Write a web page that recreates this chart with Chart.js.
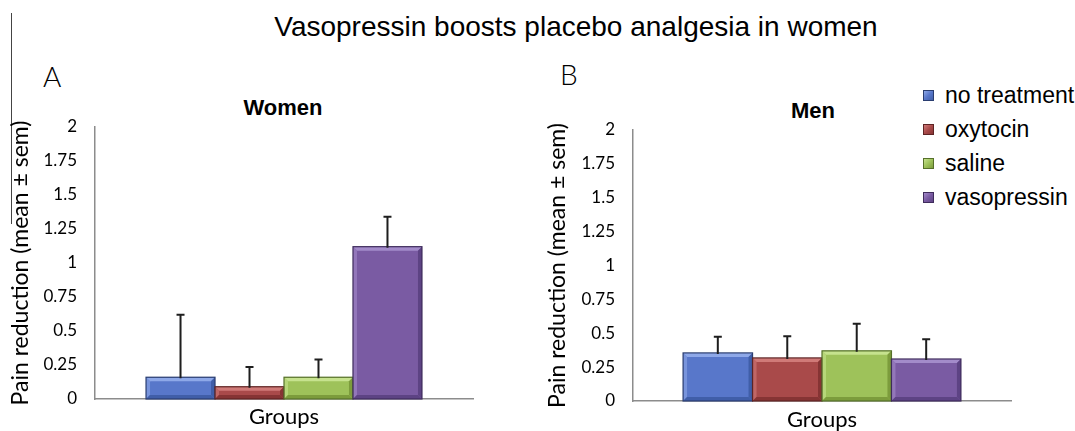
<!DOCTYPE html>
<html>
<head>
<meta charset="utf-8">
<script src="https://cdn.jsdelivr.net/npm/chart.js@4.4.1/dist/chart.umd.min.js"></script>
<style>
body { margin: 0; background: #fff; width: 1075px; height: 431px; position: relative; overflow: hidden; font-family: "Liberation Sans", Arial, sans-serif; }
canvas { position: absolute; top: 0; }
#chartA { left: 0; }
#chartB { left: 537px; }
.t { position: absolute; white-space: nowrap; line-height: 1; color: #000; }
#main { top: 13px; left: 0; width: 1152px; text-align: center; font-size: 28px; }
.panel { font-family: Lato, sans-serif; font-weight: 300; font-size: 28px; }
.sub { font-weight: bold; font-size: 22px; width: 200px; text-align: center; }
#frame { position: absolute; left: 11px; top: 13px; width: 0; height: 211px; border-left: 1.5px solid #444; }
#legend { position: absolute; left: 923px; top: 84px; }
.item { position: relative; height: 34px; font-size: 23px; line-height: 23px; color: #000; }
.item span { position: absolute; left: 22px; top: 0; white-space: nowrap; }
.item i { position: absolute; left: 0; top: 6px; width: 9px; height: 9px; border: 1px solid; }
</style>
</head>
<body>
<div id="frame"></div>
<div class="t" id="main">Vasopressin boosts placebo analgesia in women</div>
<div class="t panel" style="left:43px;top:62px">A</div>
<div class="t panel" style="left:560px;top:60px">B</div>
<div class="t sub" style="left:183px;top:97px">Women</div>
<div class="t sub" style="left:713px;top:100px">Men</div>
<div id="legend"></div>
<canvas id="chartA" width="537" height="431"></canvas>
<canvas id="chartB" width="538" height="431"></canvas>
<script>
// values
const categories = ['Groups'];
const seriesNames = ['no treatment', 'oxytocin', 'saline', 'vasopressin'];
const womenMeans = [0.16, 0.09, 0.16, 1.12];
const womenSem = [0.46, 0.145, 0.13, 0.22];
const menMeans = [0.355, 0.318, 0.37, 0.31];
const menSem = [0.12, 0.16, 0.20, 0.145];
const tickLabels = ['0', '0.25', '0.5', '0.75', '1', '1.25', '1.5', '1.75', '2'];

// bar styling (fill, bevel light, bevel dark, outline)
const fills = ['#5877ca', '#a94a4a', '#9ec25a', '#7a5ba3'];
const lights = ['#8ea8e8', '#d07a78', '#c6e28e', '#a38bca'];
const darks = ['#405ea8', '#863434', '#7c9c3c', '#5d4384'];
const outlines = ['#2a3d70', '#5e2424', '#56702a', '#3f2c5c'];

// legend
let out = '';
seriesNames.forEach((name, i) => {
    out += `<div class="item"><i style="background:linear-gradient(135deg, ${lights[i]}, ${fills[i]} 50%, ${darks[i]});border-color:${outlines[i]}"></i><span>${name}</span></div>`;
});
document.getElementById('legend').innerHTML = out;

// bevel edges + one-sided error bars
const barExtras = {
    id: 'barExtras',
    afterDatasetsDraw(chart) {
        const ctx = chart.ctx;
        const yScale = chart.scales.y;
        chart.data.datasets.forEach((ds, i) => {
            chart.getDatasetMeta(i).data.forEach((bar, j) => {
                const p = bar.getProps(['x', 'y', 'base', 'width'], true);
                const x0 = p.x - p.width / 2, x1 = p.x + p.width / 2;
                const top = p.y, bot = p.base;
                const b = Math.min(4, (bot - top) / 3);
                ctx.save();
                ctx.fillStyle = lights[i];
                ctx.beginPath();
                ctx.moveTo(x0, top); ctx.lineTo(x1, top); ctx.lineTo(x1 - b, top + b); ctx.lineTo(x0 + b, top + b);
                ctx.fill();
                ctx.globalAlpha = 0.6;
                ctx.beginPath();
                ctx.moveTo(x0, top); ctx.lineTo(x0 + b, top + b); ctx.lineTo(x0 + b, bot - b); ctx.lineTo(x0, bot);
                ctx.fill();
                ctx.globalAlpha = 1;
                ctx.fillStyle = darks[i];
                ctx.beginPath();
                ctx.moveTo(x1, top); ctx.lineTo(x1, bot); ctx.lineTo(x1 - b, bot - b); ctx.lineTo(x1 - b, top + b);
                ctx.fill();
                ctx.beginPath();
                ctx.moveTo(x0, bot); ctx.lineTo(x1, bot); ctx.lineTo(x1 - b, bot - b); ctx.lineTo(x0 + b, bot - b);
                ctx.fill();
                ctx.strokeStyle = outlines[i];
                ctx.lineWidth = 1.2;
                ctx.strokeRect(x0, top, x1 - x0, bot - top);

                const ey = yScale.getPixelForValue(ds.data[j] + ds.sem[j]);
                ctx.strokeStyle = '#1e1e1e';
                ctx.lineWidth = 2;
                ctx.beginPath();
                ctx.moveTo(p.x, top + 1); ctx.lineTo(p.x, ey);
                ctx.moveTo(p.x - 4, ey); ctx.lineTo(p.x + 4, ey);
                ctx.stroke();
                ctx.restore();
            });
        });
    }
};

function makeChart(id, means, sems, pad, yWidth, xHeight, xPad, catPct) {
    const ctx = document.getElementById(id).getContext('2d');
    const data = {
        labels: categories,
        datasets: seriesNames.map((name, i) => ({
            label: name,
            data: [means[i]],
            sem: [sems[i]],
            backgroundColor: fills[i],
            borderWidth: 0
        }))
    };
    const config = {
        type: 'bar',
        data: data,
        options: {
            responsive: false,
            animation: false,
            layout: { padding: pad },
            datasets: { bar: { categoryPercentage: catPct, barPercentage: 1 } },
            plugins: {
                legend: { display: false },
                tooltip: { enabled: false }
            },
            scales: {
                x: {
                    grid: { display: false, drawTicks: false },
                    border: { display: true, color: '#8c8c8c', width: 1.5 },
                    ticks: { padding: xPad, color: '#000', font: { family: 'Lato', size: 22 } },
                    afterFit: (s) => { s.height = xHeight; }
                },
                y: {
                    min: 0,
                    max: 2,
                    grid: { display: false, drawTicks: false },
                    border: { display: true, color: '#8c8c8c', width: 1.5 },
                    ticks: {
                        stepSize: 0.25,
                        padding: 18,
                        color: '#000',
                        font: { family: 'Lato', size: 17 },
                        callback: (v) => tickLabels.find(t => parseFloat(t) === v)
                    },
                    title: {
                        display: true,
                        text: 'Pain reduction (mean ± sem)',
                        color: '#000',
                        font: { family: 'Lato', size: 23 },
                        padding: { top: 7, bottom: 0 }
                    },
                    afterFit: (s) => { s.width = yWidth; }
                }
            }
        },
        plugins: [barExtras]
    };
    return new Chart(ctx, config);
}

makeChart('chartA', womenMeans, womenSem, { left: 0, right: 64, top: 127, bottom: 0 }, 95, 32, 5, 0.73);
makeChart('chartB', menMeans, menSem, { left: 0, right: 64, top: 130, bottom: 0 }, 96, 30, 6, 0.735);
</script>
</body>
</html>
